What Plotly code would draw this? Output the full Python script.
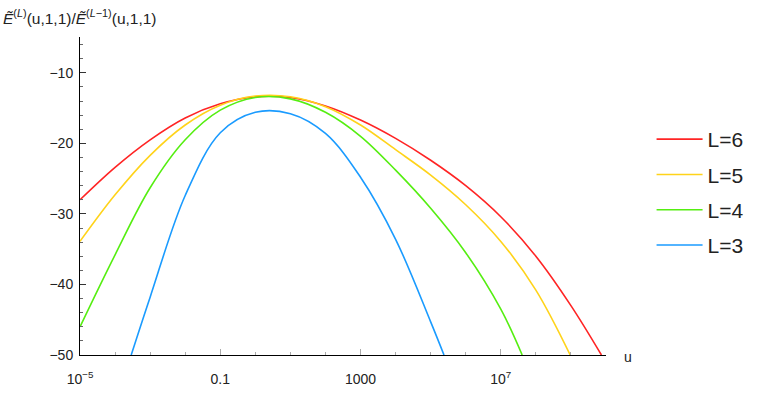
import plotly.graph_objects as go

# log10(u) positions and ratio values
t_L6 = [-5, -4, -3, -2, -1, 0, 1, 2, 3, 4, 5, 6, 7, 8, 9, 9.87]
y_L6 = [-28.0, -23.4, -19.5, -16.4, -14.4, -13.4, -13.5, -14.7, -16.7, -19.3, -22.4, -26.0, -30.4, -36.0, -43.0, -50]

t_L5 = [-5, -4, -3, -2, -1, 0, 1, 2, 3, 4, 5, 6, 7, 8, 8.98]
y_L5 = [-33.9, -27.3, -21.7, -17.4, -14.6, -13.3, -13.4, -14.8, -17.4, -20.9, -24.5, -28.7, -33.9, -40.8, -50]

t_L4 = [-5, -4, -3, -2, -1, 0, 1, 2, 3, 4, 5, 6, 7, 7.61]
y_L4 = [-46.0, -35.8, -26.3, -19.5, -15.3, -13.5, -13.7, -15.6, -19.0, -23.8, -29.2, -35.5, -43.5, -50]

t_L3 = [-3.54, -3, -2, -1, 0, 1, 2, 3, 4, 5, 5.38]
y_L3 = [-50, -41.8, -27.4, -18.5, -15.6, -15.8, -18.6, -24.8, -33.6, -45.3, -50]

names = ['L=6', 'L=5', 'L=4', 'L=3']
colors = ['#ff2424', '#ffd31a', '#55ee11', '#1a9bff']

xtick_vals = [1e-5, 0.1, 1000, 1e7]
xtick_text = ['10<sup>\u22125</sup>', '0.1', '1000', '10<sup>7</sup>']

series = [(t_L6, y_L6), (t_L5, y_L5), (t_L4, y_L4), (t_L3, y_L3)]

fig = go.Figure()
for (t, y), name, col in zip(series, names, colors):
    fig.add_trace(go.Scatter(
        x=[10 ** v for v in t], y=y, name=name, legendgroup=name,
        mode='lines', line=dict(color=col, width=1.6, shape='spline', smoothing=1.0),
    ))

W, H = 761, 399
L, R, T, B = 80, 150, 37, 33
pw, ph = W - L - R, H - T - B

fig.update_layout(
    width=W, height=H,
    margin=dict(l=L, r=R, t=T, b=B),
    paper_bgcolor='white', plot_bgcolor='white',
    font=dict(family='Liberation Sans, Arial, sans-serif', size=14, color='#222'),
    showlegend=True,
    legend=dict(x=(657 - L) / pw, xanchor='left', y=0.511, yanchor='middle',
                font=dict(size=21, color='#222'), tracegroupgap=5,
                itemwidth=46, bgcolor='rgba(0,0,0,0)'),
    xaxis=dict(type='log', range=[-5, 10], showgrid=False, zeroline=False,
               showline=True, linecolor='black', linewidth=1,
               tickmode='array', tickvals=xtick_vals, ticktext=xtick_text,
               ticks='inside', ticklen=6, tickcolor='#aaa', ticklabelstandoff=11,
               minor=dict(tickmode='array', tickvals=[10 ** k for k in range(-5, 11)],
                          ticks='inside', ticklen=3, tickcolor='#aaa')),
    yaxis=dict(range=[-50, -4.93], showgrid=False, zeroline=False,
               showline=True, linecolor='black', linewidth=1,
               tickmode='array', tickvals=[-50, -40, -30, -20, -10],
               ticks='inside', ticklen=6, tickcolor='#333', ticklabelstandoff=3,
               minor=dict(dtick=2, tick0=0, ticks='inside', ticklen=3, tickcolor='#666')),
    annotations=[
        dict(xref='paper', yref='paper', x=-L / pw, y=1 + (T - 16) / ph, xanchor='left', yanchor='middle',
             text='<i>\u1ebc</i><sup>(<i>L</i>)</sup>(u,1,1)/<i>\u1ebc</i><sup>(<i>L</i>\u22121)</sup>(u,1,1)',
             showarrow=False, font=dict(size=15.5, color='#222')),
        dict(xref='paper', yref='paper', x=1 + 16 / pw, y=-2 / ph, xanchor='left', yanchor='middle',
             text='u', showarrow=False, font=dict(size=14, color='#222')),
    ],
)

# drop the default body margin so the 761x399 figure fills the window exactly
fig.write_html('out.html', config={'displayModeBar': False},
               post_script="document.body.style.margin='0';document.body.style.overflow='hidden';")
